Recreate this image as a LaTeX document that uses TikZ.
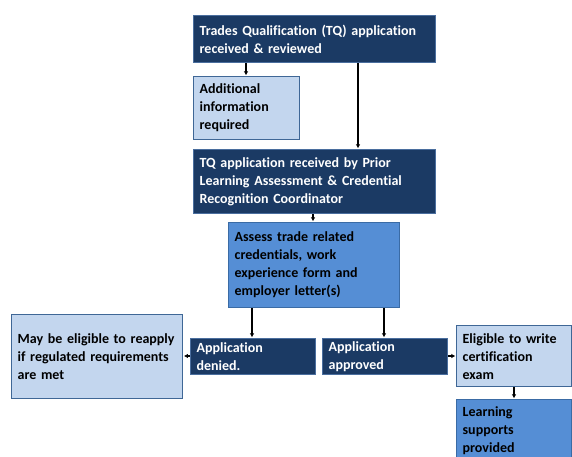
\documentclass[tikz,border=0pt]{standalone}
\usepackage{fontspec}
\setmainfont[Ligatures=CommonOff]{Carlito}
\usetikzlibrary{arrows.meta,calc}
\definecolor{navy}{HTML}{1B3A64}
\definecolor{navyedge}{HTML}{4A6E9E}
\definecolor{lightfill}{HTML}{C3D6EE}
\definecolor{lightedge}{HTML}{3F6796}
\definecolor{midfill}{HTML}{558ED5}
\definecolor{midedge}{HTML}{3A6BA5}
\tikzset{
  box/.style={anchor=north west, inner xsep=6pt, inner ysep=0pt, align=left,
    font=\fontsize{14}{18}\selectfont\bfseries, line width=1.3pt, rectangle},
  darkbox/.style={box, fill=navy, draw=navyedge, text=white},
  lightbox/.style={box, fill=lightfill, draw=lightedge, text=black},
  midbox/.style={box, fill=midfill, draw=midedge, text=black},
  arr/.style={line width=1.3pt, shorten >=0.6pt, -{Latex[length=4pt,width=4.5pt]}}
}
\begin{document}
\begin{tikzpicture}[x=1pt,y=-1pt]
\useasboundingbox (0,0) rectangle (572,457);
\clip (0,0) rectangle (572,457);
\node[darkbox, minimum width=242pt, minimum height=47pt, text width=230pt] (top) at (193,15)
  {Trades Qualification (TQ) application\\received \& reviewed};
\node[lightbox, minimum width=106pt, minimum height=63pt, text width=94pt] (add) at (193,76)
  {Additional\\information\\required};
\node[darkbox, minimum width=242pt, minimum height=64pt, text width=230pt] (tq) at (193,149)
  {TQ application received by Prior\\Learning Assessment \& Credential\\Recognition Coordinator};
\node[midbox, minimum width=171pt, minimum height=85pt, text width=159pt] (assess) at (228,222)
  {Assess trade related\\credentials, work\\experience form and\\employer letter(s)};
\node[darkbox, minimum width=125pt, minimum height=36pt, text width=113pt] (denied) at (190,338)
  {Application\\denied.};
\node[darkbox, minimum width=125pt, minimum height=36pt, text width=113pt] (approved) at (322,338)
  {Application\\approved};
\node[lightbox, minimum width=171pt, minimum height=84pt, text width=159pt] (may) at (11,314)
  {May be eligible to reapply\\if regulated requirements\\are met};
\node[lightbox, minimum width=115pt, minimum height=61pt, text width=103pt] (elig) at (456,325)
  {Eligible to write\\certification\\exam};
\node[midbox, minimum width=115pt, minimum height=72pt, text width=103pt, anchor=north west] (learn) at (456,399)
  {\rule{0pt}{0pt}\\[-2pt]Learning\\supports\\provided\\\phantom{x}};
\coordinate (c1) at (246,0);
\coordinate (c2) at (358,0);
\coordinate (c3) at (313,0);
\coordinate (c4) at (252,0);
\coordinate (c5) at (384,0);
\coordinate (c6) at (514,0);
\coordinate (r1) at (0,356);
\draw[arr] (top.south -| c1) -- (add.north -| c1);
\draw[arr] (top.south -| c2) -- (tq.north -| c2);
\draw[arr] (tq.south -| c3) -- (assess.north -| c3);
\draw[arr] (assess.south -| c4) -- (denied.north -| c4);
\draw[arr] (assess.south -| c5) -- (approved.north -| c5);
\draw[arr] (denied.west |- r1) -- (may.east |- r1);
\draw[arr] (approved.east |- r1) -- (elig.west |- r1);
\draw[arr] (elig.south -| c6) -- (learn.north -| c6);
\end{tikzpicture}
\end{document}
